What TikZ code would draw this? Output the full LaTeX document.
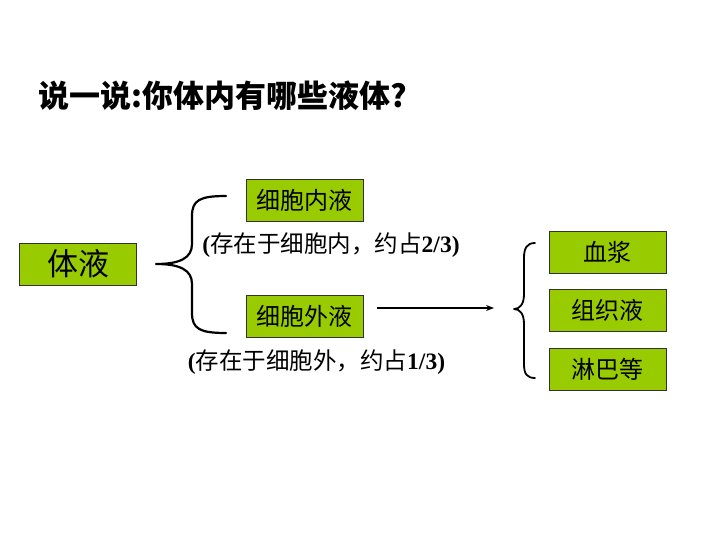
\documentclass[tikz,border=0pt]{standalone}
\usepackage{fontspec}
\setmainfont{Liberation Serif}
\newfontfamily\cjk{Noto Sans CJK SC}
\usetikzlibrary{arrows.meta,positioning}
\definecolor{tiyegreen}{RGB}{153,204,0}
\definecolor{tiyeedge}{RGB}{50,50,50}
\tikzset{
  fbox/.style={rectangle, draw=tiyeedge, fill=tiyegreen, line width=0.9pt,
               minimum width=117pt, minimum height=42pt, inner sep=0pt,
               font=\cjk\fontsize{24}{24}\selectfont},
  fboxbig/.style={fbox, font=\cjk\fontsize{31}{31}\selectfont},
  fnote/.style={inner sep=0pt, font=\bfseries\fontsize{23.5}{23.5}\selectfont},
  fbrace/.style={line width=2.2pt, line cap=round, line join=round},
  farrow/.style={-{Stealth[length=8pt, width=6pt]}, line width=1.2pt},
}
\begin{document}
\begin{tikzpicture}[x=1pt, y=-1pt]
\useasboundingbox (0,0) rectangle (720,540);
% title
\node[anchor=west, inner sep=0pt, font=\cjk\bfseries\fontsize{31}{31}\selectfont] (title) at (38,96) {说一说:你体内有哪些液体?};
% left part
\node[fboxbig] (tiye) at (78,264) {体液};
\node[fbox] (nei) at (304.5,200) {细胞内液};
\node[fbox] (wai) at (304.5,316.5) {细胞外液};
\node[fnote] (neinote) at (331,245) {(\cjk\mdseries 存在于细胞内，约占\bfseries\rmfamily 2/3)};
\node[fnote] (wainote) at (316.5,362) {(\cjk\mdseries 存在于细胞外，约占\bfseries\rmfamily 1/3)};
% right part
\node[fbox] (xuejiang) at (607.5,252.5) {血浆};
\node[fbox] (zuzhi) at (607.5,310.5) {组织液};
\node[fbox] (linba) at (607.5,369) {淋巴等};
% braces
\coordinate (b1tip) at (156,264);
\coordinate (b1top) at (226,196);
\coordinate (b1bot) at (226,333);
\draw[fbrace] (b1top) .. controls (200,196) and (192,200) .. (192,216) -- (192,244)
  .. controls (192,258) and (180,264) .. (b1tip)
  .. controls (180,264) and (192,270) .. (192,284) -- (192,313)
  .. controls (192,329) and (200,333) .. (b1bot);
\coordinate (b2tip) at (514,309);
\coordinate (b2top) at (535,243);
\coordinate (b2bot) at (535,378);
\draw[fbrace, line width=1.8pt] (b2top) .. controls (527,243) and (524,248) .. (524,258) -- (524,294)
  .. controls (524,304) and (520,309) .. (b2tip)
  .. controls (520,309) and (524,314) .. (524,324) -- (524,364)
  .. controls (524,374) and (527,378) .. (b2bot);
% arrow
\coordinate (arrS) at (377,308);
\coordinate (arrE) at (494,308);
\draw[farrow] (arrS) -- (arrE);
\end{tikzpicture}
\end{document}
